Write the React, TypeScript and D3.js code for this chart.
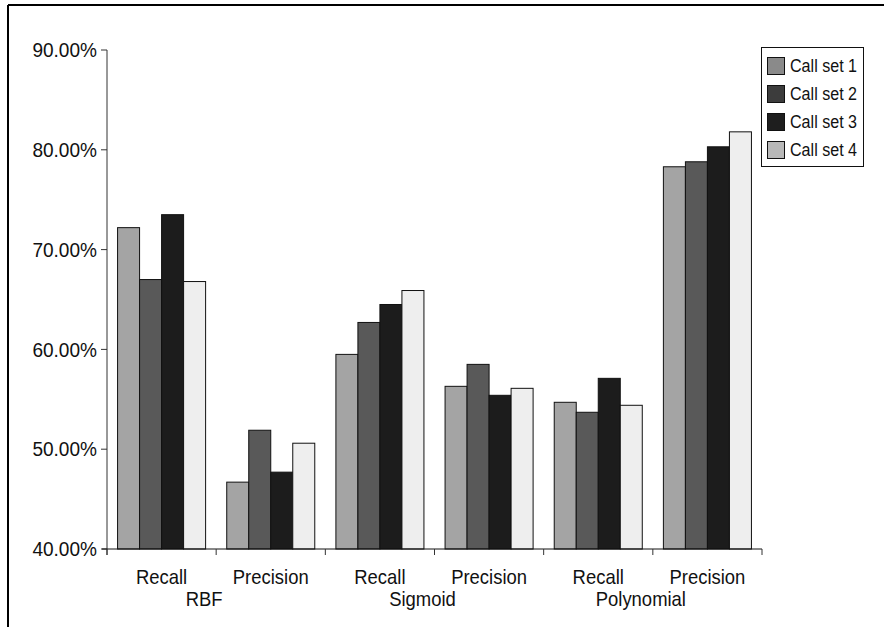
import React from "react";
import * as d3 from "d3";

// Kernel groups and the two metrics measured for each
const groups = ["RBF", "Sigmoid", "Polynomial"];
const metrics = ["Recall", "Precision"];
const seriesNames = ["Call set 1", "Call set 2", "Call set 3", "Call set 4"];

// Values in percent, one array per call set, ordered RBF R/P, Sigmoid R/P, Polynomial R/P
const callSet1 = [72.2, 46.7, 59.5, 56.3, 54.7, 78.3];
const callSet2 = [67.0, 51.9, 62.7, 58.5, 53.7, 78.8];
const callSet3 = [73.5, 47.7, 64.5, 55.4, 57.1, 80.3];
const callSet4 = [66.8, 50.6, 65.9, 56.1, 54.4, 81.8];

const yTicks = [40, 50, 60, 70, 80, 90];

const barColors = ["#a4a4a4", "#595959", "#1c1c1c", "#eeeeee"];
const legendColors = ["#8a8a8a", "#3c3c3c", "#1e1e1e", "#b8b8b8"];

const W = 884;
const H = 627;
const FONT = "'Liberation Sans', Arial, sans-serif";

type TxtProps = {
  x: number;
  y: number;
  size: number;
  sx: number;
  anchor?: "start" | "middle" | "end";
  children: React.ReactNode;
};

// Slightly condensed text: drawn at the origin, then narrowed horizontally
function Txt({ x, y, size, sx, anchor = "start", children }: TxtProps) {
  return (
    <text
      transform={`translate(${x},${y}) scale(${sx},1)`}
      textAnchor={anchor}
      dominantBaseline="central"
      fontFamily={FONT}
      fontSize={size}
      fill="#111"
    >
      {children}
    </text>
  );
}

export default function App() {
  const series = [callSet1, callSet2, callSet3, callSet4];
  const categories = groups.flatMap((g) => metrics.map((m) => `${g}|${m}`));

  const x = d3.scaleBand<string>().domain(categories).range([107, 762]).paddingInner(0).paddingOuter(0);
  const xInner = d3
    .scaleBand<number>()
    .domain(d3.range(series.length))
    .range([0, x.bandwidth()])
    .paddingOuter(0.48)
    .paddingInner(0);
  const y = d3.scaleLinear().domain([40, 90]).range([549, 50]);

  const fmt = (v: number) => `${v.toFixed(2)}%`;

  return (
    <svg width={W} height={H} style={{ position: "absolute", left: 0, top: 0, display: "block" }}>
      <rect x={0} y={0} width={W} height={H} fill="#ffffff" />
      {/* outer frame */}
      <line x1={8} y1={5} x2={W} y2={5} stroke="#000" strokeWidth={2} />
      <line x1={8} y1={5} x2={8} y2={H} stroke="#000" strokeWidth={2} />

      {/* bars */}
      {categories.map((c, ci) =>
        series.map((s, si) => {
          const x0 = (x(c) as number) + (xInner(si) as number);
          const y0 = y(s[ci]);
          return (
            <rect
              key={`${c}-${si}`}
              x={x0}
              y={y0}
              width={xInner.bandwidth()}
              height={y(40) - y0}
              fill={barColors[si]}
              stroke="#111"
              strokeWidth={1}
            />
          );
        })
      )}

      {/* y axis */}
      <line x1={107} y1={y(90)} x2={107} y2={y(40) + 6} stroke="#333" strokeWidth={1} />
      {yTicks.map((t) => (
        <g key={t}>
          <line x1={101} y1={y(t)} x2={107} y2={y(t)} stroke="#333" strokeWidth={1} />
          <Txt x={97} y={y(t)} size={20.5} sx={0.93} anchor="end">
            {fmt(t)}
          </Txt>
        </g>
      ))}

      {/* x axis */}
      <line x1={102} y1={y(40)} x2={762} y2={y(40)} stroke="#111" strokeWidth={1} />
      {d3.range(categories.length + 1).map((i) => {
        const xx = 107 + i * x.bandwidth();
        return <line key={i} x1={xx} y1={y(40)} x2={xx} y2={y(40) + 6} stroke="#333" strokeWidth={1} />;
      })}
      {categories.map((c) => (
        <Txt key={c} x={(x(c) as number) + x.bandwidth() / 2} y={577} size={20.5} sx={0.9} anchor="middle">
          {c.split("|")[1]}
        </Txt>
      ))}
      {groups.map((g) => (
        <Txt
          key={g}
          x={(x(`${g}|Recall`) as number) + x.bandwidth() - 12}
          y={599}
          size={20.5}
          sx={0.9}
          anchor="middle"
        >
          {g}
        </Txt>
      ))}

      {/* legend */}
      <rect x={761.5} y={47.5} width={102} height={119} fill="#fff" stroke="#111" strokeWidth={1} />
      {seriesNames.map((n, i) => (
        <g key={n} transform={`translate(767, ${57 + i * 28})`}>
          <rect x={0.5} y={0.5} width={17} height={17} fill={legendColors[i]} stroke="#111" strokeWidth={1} />
          <Txt x={23} y={9} size={18.5} sx={0.87}>
            {n}
          </Txt>
        </g>
      ))}
    </svg>
  );
}
